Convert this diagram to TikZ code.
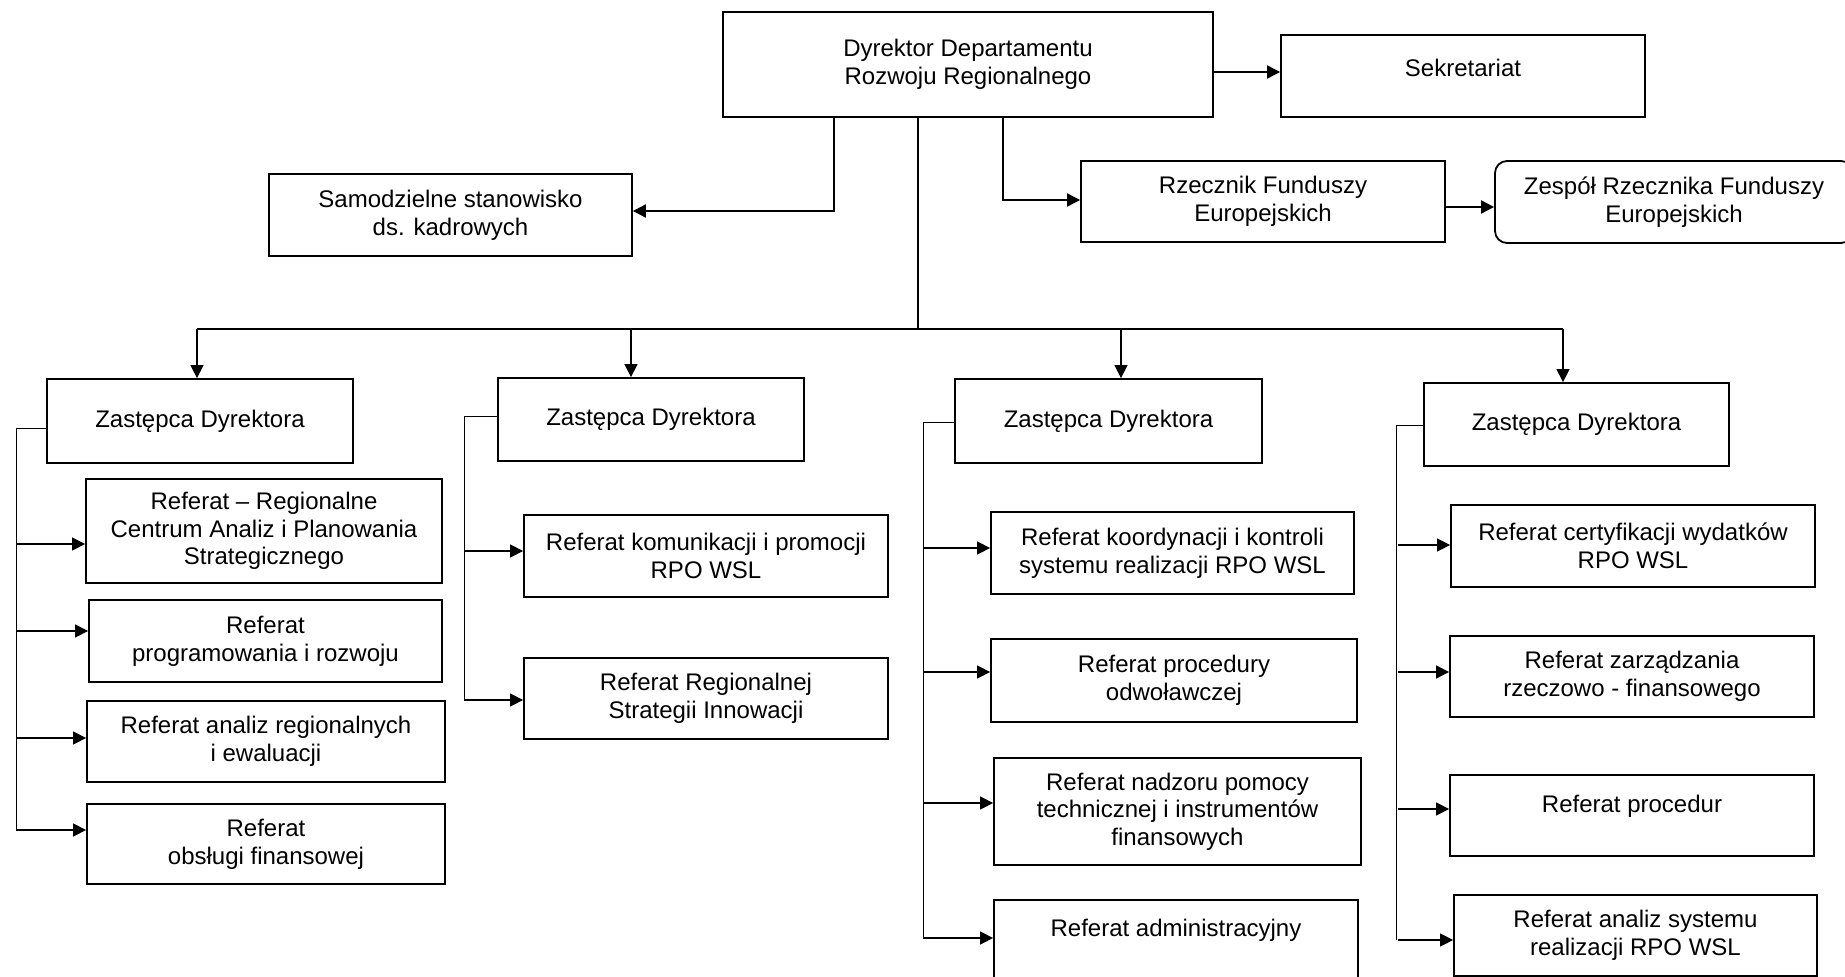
\documentclass[tikz,border=0pt]{standalone}
\usepackage{fontspec}
\setmainfont{Liberation Sans}
\usetikzlibrary{arrows.meta}
\begin{document}
\begin{tikzpicture}[x=1pt,y=-1pt,
  box/.style={draw, line width=1.8pt, inner sep=0pt, align=center, font=\fontsize{24}{27.6}\selectfont},
  sz/.style 2 args={minimum width=#1pt, minimum height=#2pt},
  txt/.style={inner sep=0pt, align=center, font=\fontsize{24}{27.6}\selectfont},
  arr/.style={line width=1.4pt, -{Triangle[length=13pt,width=13pt]}},
  toparr/.style={line width=2pt, -{Triangle[length=13pt,width=13pt]}},
  con/.style={line width=2pt},
  bus/.style={line width=1.2pt},
  brk/.style={line width=0.9pt}]
\useasboundingbox (0,0) rectangle (1845,977);
\clip (0,0) rectangle (1845,977);

% top level
\node[box, sz={490}{105}] (dir) at (968,64.5) {Dyrektor Departamentu\\Rozwoju Regionalnego};
\node[box, sz={364}{82}] (sek) at (1463,76) {};
\node[txt] (sekt) at (1463,68) {Sekretariat};
\node[box, sz={363}{82}] (sam) at (450.5,215) {Samodzielne stanowisko\\ds. kadrowych};
\node[box, sz={364}{81}] (rz) at (1263,201.5) {Rzecznik Funduszy\\Europejskich};
\node[box, sz={358}{82}, rounded corners=12pt] (zes) at (1674,202) {Zespół Rzecznika Funduszy\\Europejskich};

% deputies
\node[box, sz={306}{84}] (z1) at (200,421) {Zastępca Dyrektora};
\node[box, sz={306}{83}] (z2) at (651,419.5) {Zastępca Dyrektora};
\node[box, sz={307}{84}] (z3) at (1108.5,421) {Zastępca Dyrektora};
\node[box, sz={305}{83}] (z4) at (1576.5,424.5) {Zastępca Dyrektora};

% column 1
\node[box, sz={356}{104}] (r1a) at (264,531) {Referat – Regionalne\\Centrum Analiz i Planowania\\Strategicznego};
\node[box, sz={353}{82}] (r1b) at (265.5,641) {Referat\\programowania i rozwoju};
\node[box, sz={358}{81}] (r1c) at (266,741.5) {Referat analiz regionalnych\\i ewaluacji};
\node[box, sz={358}{80}] (r1d) at (266,844) {Referat\\obsługi finansowej};

% column 2
\node[box, sz={364}{82}] (r2a) at (706,556) {Referat komunikacji i promocji\\RPO WSL};
\node[box, sz={364}{81}] (r2b) at (706,698.5) {Referat Regionalnej\\Strategii Innowacji};

% column 3
\node[box, sz={363}{82}] (r3a) at (1172.5,553) {Referat koordynacji i kontroli\\systemu realizacji RPO WSL};
\node[box, sz={366}{83}] (r3b) at (1174,680.5) {Referat procedury\\odwoławczej};
\node[box, sz={367}{107}] (r3c) at (1177.5,811.5) {Referat nadzoru pomocy\\technicznej i instrumentów\\finansowych};
\node[box, sz={364}{107}] (r3d) at (1176,953.5) {};
\node[txt] (r3dt) at (1176,930) {Referat administracyjny};

% column 4
\node[box, sz={364}{82}] (r4a) at (1633,546) {Referat certyfikacji wydatków\\RPO WSL};
\node[box, sz={364}{81}] (r4b) at (1632,676.5) {Referat zarządzania\\rzeczowo - finansowego};
\node[box, sz={364}{81}] (r4c) at (1632,815.5) {};
\node[txt] (r4ct) at (1632,806) {Referat procedur};
\node[box, sz={363}{81}] (r4d) at (1635.5,935.5) {Referat analiz systemu\\realizacji RPO WSL};

% top connectors
\coordinate (sekY) at (0,72);
\draw[toparr] (dir.east |- sekY) -- (sek.west |- sekY);
\coordinate (samturn) at (834,211);
\draw[toparr] (dir.south -| samturn) -- (samturn) -- (sam.east |- samturn);
\coordinate (rzturn) at (1003,200);
\draw[toparr] (dir.south -| rzturn) -- (rzturn) -- (rz.west |- rzturn);
\coordinate (zesY) at (0,207);
\draw[toparr] (rz.east |- zesY) -- (zes.west |- zesY);

% bus to deputies
\coordinate (bt) at (918,329);
\coordinate (b1) at (197,329);
\coordinate (b2) at (631,329);
\coordinate (b3) at (1121,329);
\coordinate (b4) at (1563,329);
\draw[con] (dir.south -| bt) -- (bt);
\draw[bus] (b1) -- (b4);
\draw[arr] (b1) -- (b1 |- z1.north);
\draw[arr] (b2) -- (b2 |- z2.north);
\draw[arr] (b3) -- (b3 |- z3.north);
\draw[arr] (b4) -- (b4 |- z4.north);

% bracket 1
\coordinate (k1) at (16,428);
\coordinate (k1e) at (16,831);
\draw[brk] (z1.west |- k1) -- (k1) -- (k1e);
\coordinate (a11) at (16,544);
\coordinate (a12) at (16,631);
\coordinate (a13) at (16,738);
\coordinate (a14) at (16,830);
\draw[arr] (a11) -- (r1a.west |- a11);
\draw[arr] (a12) -- (r1b.west |- a12);
\draw[arr] (a13) -- (r1c.west |- a13);
\draw[arr] (a14) -- (r1d.west |- a14);

% bracket 2
\coordinate (k2) at (464,416);
\coordinate (k2e) at (464,701);
\draw[brk] (z2.west |- k2) -- (k2) -- (k2e);
\coordinate (a21) at (464,551);
\coordinate (a22) at (464,700);
\draw[arr] (a21) -- (r2a.west |- a21);
\draw[arr] (a22) -- (r2b.west |- a22);

% bracket 3
\coordinate (k3) at (923,422);
\coordinate (k3e) at (923,938);
\draw[brk] (z3.west |- k3) -- (k3) -- (k3e);
\coordinate (a31) at (923,548);
\coordinate (a32) at (923,672);
\coordinate (a33) at (923,803);
\coordinate (a34) at (923,938);
\draw[arr] (a31) -- (r3a.west |- a31);
\draw[arr] (a32) -- (r3b.west |- a32);
\draw[arr] (a33) -- (r3c.west |- a33);
\draw[arr] (a34) -- (r3d.west |- a34);

% bracket 4
\coordinate (k4) at (1396,425);
\coordinate (k4e) at (1396,940);
\draw[brk] (z4.west |- k4) -- (k4) -- (k4e);
\coordinate (a41) at (1398,545);
\coordinate (a42) at (1398,672);
\coordinate (a43) at (1398,809);
\coordinate (a44) at (1398,940);
\draw[arr] (a41) -- (r4a.west |- a41);
\draw[arr] (a42) -- (r4b.west |- a42);
\draw[arr] (a43) -- (r4c.west |- a43);
\draw[arr] (a44) -- (r4d.west |- a44);
\end{tikzpicture}
\end{document}
